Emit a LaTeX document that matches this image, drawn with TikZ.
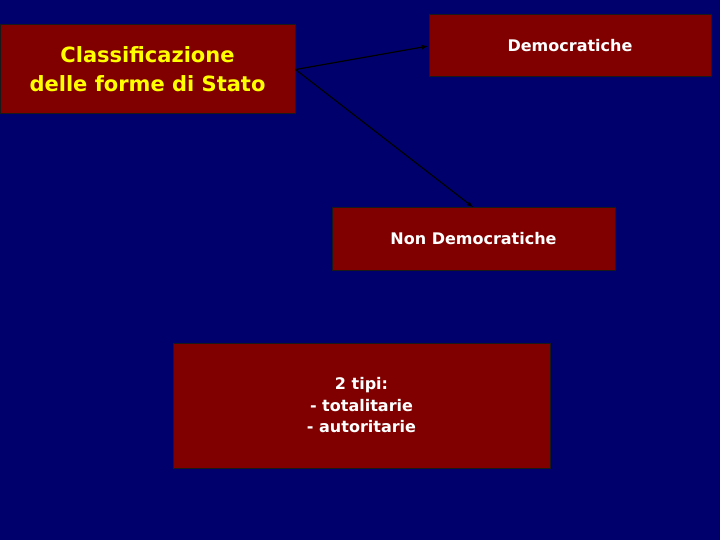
\documentclass[tikz,border=0pt]{standalone}
\usepackage{fontspec}
\setmainfont{DejaVu Sans}
\usetikzlibrary{arrows.meta}
\definecolor{sNavy}{RGB}{0,0,108}
\definecolor{sRed}{RGB}{128,0,0}
\definecolor{sYellow}{RGB}{255,255,0}
\tikzset{
    box/.style={rectangle, draw=black!90, line width=1pt, fill=sRed, inner sep=0pt, align=center, text=white, font=\bfseries\fontsize{16}{21.5}\selectfont},
    conn/.style={-{Latex[length=7pt,width=5pt]}, black, line width=1.2pt}
}

\begin{document}
\begin{tikzpicture}[x=1pt,y=-1pt]
\fill[sNavy] (0,0) rectangle (720,540);
\useasboundingbox (0,0) rectangle (720,540);
\node[box, minimum width=295pt, minimum height=89pt, text=sYellow,
      font=\bfseries\fontsize{21}{29}\selectfont] (classi) at (147.5,69.5)
      {Classificazione\\delle forme di Stato};
\node[box, minimum width=282pt, minimum height=62pt] (demo) at (570,46) {Democratiche};
\node[box, minimum width=283pt, minimum height=62pt] (nondemo) at (473.5,239) {Non Democratiche};
\node[box, minimum width=377pt, minimum height=125pt] (tipi) at (361.5,405.5)
      {2 tipi:\\- totalitarie\\- autoritarie};
\draw[conn] (classi.east) -- (demo.west);
\draw[conn] (classi.east) -- (nondemo.north);
\end{tikzpicture}
\end{document}
